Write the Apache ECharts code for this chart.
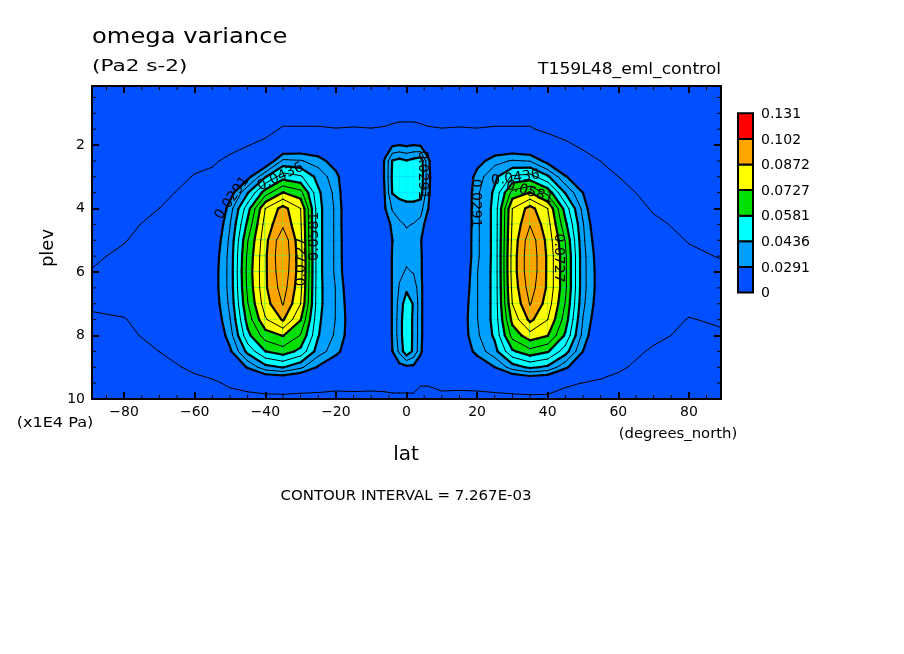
<!DOCTYPE html>
<html><head><meta charset="utf-8">
<script src="https://cdn.jsdelivr.net/npm/echarts@6/dist/echarts.min.js"></script>
<style>html,body{margin:0;padding:0;background:#fff}#c{width:904px;height:654px}</style>
</head><body><div id="c"></div><script>
// ---------- data ----------
const lat = [-89.1,-80,-70,-60,-55,-50,-45,-40,-35,-30,-25,-20,-15,-10,-6,-4,-2,0,2,4,6,10,15,20,25,30,35,40,45,50,55,60,70,80,89.1];
const plev = [0.14,1,1.5,2,2.5,3,3.5,4,4.5,5,5.5,6,6.5,7,7.5,8,8.5,9,9.5,10];
// omega variance profiles, one array per latitude (values at the plev levels above)
const varianceByLat = [
 [0.001,0.0015,0.002,0.0025,0.003,0.0035,0.004,0.0045,0.005,0.0055,0.0065,0.0075,0.0085,0.008,0.0065,0.006,0.0055,0.005,0.0045,0.004],
 [0.001,0.0015,0.002,0.0025,0.003,0.0035,0.004,0.005,0.006,0.007,0.0082,0.009,0.0095,0.0088,0.007,0.006,0.0055,0.005,0.0045,0.004],
 [0.001,0.002,0.0025,0.003,0.0035,0.0045,0.0058,0.0073,0.0088,0.0098,0.0105,0.011,0.0112,0.011,0.0102,0.009,0.0073,0.006,0.005,0.0045],
 [0.001,0.002,0.003,0.004,0.0058,0.0076,0.0092,0.0105,0.0115,0.012,0.0122,0.0122,0.012,0.0118,0.0115,0.011,0.0095,0.008,0.0062,0.005],
 [0.001,0.002,0.003,0.0045,0.0065,0.0085,0.011,0.014,0.018,0.021,0.023,0.024,0.024,0.023,0.021,0.018,0.014,0.0095,0.0065,0.005],
 [0.001,0.002,0.0035,0.0055,0.0085,0.014,0.025,0.033,0.036,0.038,0.039,0.039,0.039,0.038,0.036,0.033,0.0275,0.018,0.008,0.0055],
 [0.001,0.0025,0.004,0.007,0.012,0.026,0.043,0.055,0.060,0.065,0.067,0.068,0.067,0.065,0.061,0.056,0.046,0.030,0.010,0.005],
 [0.001,0.003,0.005,0.009,0.020,0.043,0.062,0.080,0.083,0.085,0.086,0.086,0.086,0.084,0.079,0.069,0.058,0.041,0.014,0.004],
 [0.001,0.004,0.008,0.018,0.038,0.055,0.073,0.090,0.093,0.100,0.101,0.100,0.098,0.095,0.088,0.073,0.062,0.044,0.015,0.004],
 [0.001,0.004,0.008,0.020,0.037,0.052,0.068,0.080,0.081,0.082,0.083,0.083,0.082,0.080,0.073,0.065,0.056,0.038,0.013,0.004],
 [0.001,0.004,0.008,0.019,0.033,0.041,0.045,0.046,0.046,0.046,0.046,0.046,0.046,0.046,0.045,0.044,0.040,0.028,0.012,0.004],
 [0.001,0.004,0.0075,0.014,0.024,0.032,0.034,0.035,0.035,0.035,0.035,0.035,0.036,0.036,0.036,0.035,0.032,0.020,0.010,0.0045],
 [0.001,0.004,0.0078,0.010,0.012,0.014,0.015,0.016,0.016,0.017,0.017,0.018,0.020,0.022,0.023,0.023,0.020,0.014,0.011,0.004],
 [0.001,0.004,0.0075,0.009,0.010,0.011,0.011,0.011,0.011,0.011,0.011,0.012,0.012,0.012,0.012,0.012,0.012,0.011,0.0095,0.005],
 [0.001,0.004,0.008,0.022,0.031,0.031,0.030,0.029,0.022,0.018,0.018,0.018,0.018,0.018,0.018,0.018,0.017,0.012,0.010,0.005],
 [0.001,0.004,0.009,0.028,0.044,0.045,0.044,0.037,0.032,0.029,0.030,0.030,0.030,0.030,0.030,0.030,0.029,0.020,0.011,0.005],
 [0.001,0.004,0.010,0.029,0.046,0.048,0.046,0.040,0.035,0.033,0.034,0.035,0.037,0.039,0.040,0.040,0.038,0.026,0.011,0.005],
 [0.001,0.004,0.010,0.028,0.044,0.048,0.047,0.041,0.037,0.034,0.035,0.037,0.042,0.048,0.050,0.050,0.049,0.027,0.011,0.005],
 [0.001,0.004,0.010,0.029,0.046,0.048,0.047,0.041,0.036,0.034,0.035,0.036,0.040,0.043,0.042,0.042,0.042,0.027,0.011,0.005],
 [0.001,0.004,0.009,0.028,0.048,0.049,0.047,0.039,0.034,0.030,0.031,0.031,0.032,0.032,0.032,0.032,0.031,0.022,0.008,0.004],
 [0.001,0.004,0.008,0.022,0.032,0.033,0.032,0.030,0.024,0.019,0.019,0.019,0.019,0.019,0.019,0.019,0.018,0.013,0.008,0.004],
 [0.001,0.004,0.0075,0.009,0.010,0.011,0.011,0.011,0.011,0.011,0.011,0.012,0.012,0.012,0.012,0.012,0.012,0.011,0.0095,0.005],
 [0.001,0.004,0.0078,0.010,0.012,0.014,0.015,0.016,0.016,0.017,0.017,0.018,0.020,0.022,0.023,0.023,0.020,0.014,0.010,0.004],
 [0.001,0.004,0.0075,0.014,0.025,0.033,0.035,0.035,0.035,0.035,0.035,0.036,0.036,0.036,0.036,0.035,0.032,0.021,0.010,0.0045],
 [0.001,0.004,0.008,0.019,0.034,0.042,0.045,0.046,0.046,0.046,0.046,0.046,0.046,0.046,0.046,0.045,0.041,0.029,0.012,0.004],
 [0.001,0.004,0.008,0.020,0.037,0.052,0.068,0.080,0.081,0.082,0.083,0.083,0.082,0.080,0.075,0.068,0.057,0.040,0.014,0.004],
 [0.001,0.004,0.008,0.018,0.036,0.054,0.073,0.090,0.094,0.099,0.100,0.100,0.098,0.095,0.089,0.077,0.063,0.045,0.016,0.004],
 [0.001,0.003,0.0055,0.012,0.026,0.045,0.063,0.080,0.083,0.085,0.086,0.086,0.086,0.084,0.080,0.073,0.059,0.042,0.015,0.004],
 [0.001,0.0025,0.0045,0.0085,0.016,0.030,0.043,0.055,0.060,0.065,0.067,0.067,0.067,0.065,0.062,0.057,0.047,0.031,0.009,0.003],
 [0.001,0.002,0.0035,0.006,0.010,0.020,0.029,0.034,0.037,0.038,0.039,0.039,0.039,0.038,0.036,0.034,0.029,0.019,0.007,0.005],
 [0.001,0.002,0.003,0.005,0.0072,0.009,0.012,0.015,0.018,0.021,0.023,0.024,0.024,0.023,0.021,0.018,0.014,0.011,0.006,0.005],
 [0.001,0.002,0.003,0.0042,0.0056,0.0073,0.009,0.0105,0.0115,0.012,0.0122,0.0122,0.012,0.0118,0.0115,0.011,0.0098,0.0078,0.0062,0.005],
 [0.001,0.002,0.0025,0.003,0.0035,0.0045,0.0055,0.0068,0.0082,0.0095,0.0103,0.0108,0.011,0.0108,0.0098,0.0085,0.0065,0.0058,0.005,0.0045],
 [0.001,0.0015,0.002,0.0025,0.003,0.0035,0.004,0.005,0.006,0.007,0.0082,0.009,0.0095,0.0088,0.007,0.006,0.0055,0.005,0.0045,0.004],
 [0.001,0.0015,0.002,0.0025,0.003,0.0035,0.004,0.0045,0.005,0.006,0.007,0.0085,0.009,0.009,0.008,0.0065,0.006,0.0055,0.005,0.0045]
];
const fillLevels = [0, 0.0291, 0.0436, 0.0581, 0.0727, 0.0872, 0.102, 0.131];
const fillColors = ['#0050ff','#00a0ff','#00ffff','#00e000','#ffff00','#ffa500','#ff0000'];
const contourInterval = 7.267e-3;
const contourSteps = [1,4,5,6,7,8,9,10,11,12,13,14];
const xMajor = [-80,-60,-40,-20,0,20,40,60,80];
const xMinor = [-85,-75,-70,-65,-55,-50,-45,-35,-30,-25,-15,-10,-5,5,10,15,25,30,35,45,50,55,65,70,75,85];
const yMajor = [2,4,6,8,10];
const yMinor = [0.5,1,1.5,2.5,3,3.5,4.5,5,5.5,6.5,7,7.5,8.5,9,9.5];
const contourLabels = [
 {lat:-49.4, plev:3.67, text:'0.0291', angle:55},
 {lat:-35.7, plev:3.0,  text:'0.0436', angle:25},
 {lat:-26.1, plev:4.87, text:'0.0581', angle:90},
 {lat:-29.8, plev:5.68, text:'0.0727', angle:90},
 {lat:4.5,   plev:2.94, text:'0.0291', angle:-90},
 {lat:19.6,  plev:3.83, text:'0.0291', angle:-90},
 {lat:30.9,  plev:3.04, text:'0.0436', angle:8},
 {lat:34.9,  plev:3.48, text:'0.0581', angle:-17},
 {lat:43.1,  plev:5.56, text:'0.0727', angle:-90}
];

// ---------- helpers ----------
const FONT = 'DejaVu Sans';
function corners(i, j, api) {
  const P = [[lat[i],plev[j]],[lat[i+1],plev[j]],[lat[i+1],plev[j+1]],[lat[i],plev[j+1]]];
  const V = [varianceByLat[i][j],varianceByLat[i+1][j],varianceByLat[i+1][j+1],varianceByLat[i][j+1]];
  return {pts: P.map(p => api.coord(p)), vals: V};
}
function lerp(a, b, va, vb, t) {
  const f = (t - va) / (vb - va);
  return [a[0] + f*(b[0]-a[0]), a[1] + f*(b[1]-a[1])];
}
function clipAbove(c, t) {
  const out = [];
  for (let k = 0; k < 4; k++) {
    const a = c.pts[k], b = c.pts[(k+1)%4], va = c.vals[k], vb = c.vals[(k+1)%4];
    if (va >= t) out.push(a);
    if ((va >= t) !== (vb >= t)) out.push(lerp(a,b,va,vb,t));
  }
  return out.length >= 3 ? out : null;
}
function segments(c, t) {
  const e = [];
  for (let k = 0; k < 4; k++) {
    const a = c.pts[k], b = c.pts[(k+1)%4], va = c.vals[k], vb = c.vals[(k+1)%4];
    e.push(((va >= t) !== (vb >= t)) ? lerp(a,b,va,vb,t) : null);
  }
  const hit = e.filter(p => p);
  if (hit.length === 2) return [hit];
  if (hit.length === 4) {
    const center = (c.vals[0]+c.vals[1]+c.vals[2]+c.vals[3])/4;
    if ((center >= t) === (c.vals[0] >= t)) return [[e[0],e[1]],[e[2],e[3]]];
    return [[e[3],e[0]],[e[1],e[2]]];
  }
  return [];
}
const cells = [];
for (let i = 0; i < lat.length-1; i++) for (let j = 0; j < plev.length-1; j++) cells.push([i, j]);

const chart = echarts.init(document.getElementById('c'));
const xMin = lat[0], xMax = lat[lat.length-1], yMin = plev[0], yMax = plev[plev.length-1];
const minus = v => (v < 0 ? '\u2212' + Math.abs(v) : String(v));
const lineBlack = {color:'#000', width:2};

// colorbar graphics
const graphics = [];
const cbX = 738, cbW = 15, cbBottom = 292.5, cbH = 25.6;
for (let k = 0; k < fillColors.length; k++) {
  graphics.push({type:'rect', shape:{x:cbX, y:cbBottom-(k+1)*cbH, width:cbW, height:cbH},
    style:{fill:fillColors[k], stroke:'#000', lineWidth:2}, z:10});
}
for (let k = 0; k < fillLevels.length; k++) {
  graphics.push({type:'text', x:761, y:cbBottom-k*cbH+1,
    style:{text:String(fillLevels[k]), font:'14px "'+FONT+'"', fill:'#000', textAlign:'left', textVerticalAlign:'middle'}});
}
function txt(text, x, y, size, align, rot, sx) {
  return {type:'text', x:x, y:y, rotation: rot || 0, scaleX: sx || 1,
    style:{text:text, font:size+'px "'+FONT+'"', fill:'#000', textAlign:align||'left', textVerticalAlign:'middle'}};
}
graphics.push(txt('omega variance', 92, 37, 22, 'left', 0, 1.1));
graphics.push(txt('(Pa2 s-2)', 92, 67, 16, 'left', 0, 1.35));
graphics.push(txt('T159L48_eml_control', 721, 70, 16, 'right', 0, 1.07));
graphics.push(txt('plev', 48, 248, 18, 'center', Math.PI/2));
graphics.push(txt('lat', 406, 455, 20, 'center'));
graphics.push(txt('(x1E4 Pa)', 55, 423, 14, 'center', 0, 1.15));
graphics.push(txt('(degrees_north)', 678, 434, 14, 'center', 0, 1.06));
graphics.push(txt('CONTOUR INTERVAL = ' + contourInterval.toExponential(3).replace('e-', 'E-0'), 406, 496, 14, 'center', 0, 1.07));

const valAxisX = (pos, labels) => ({
  type:'value', position:pos, min:xMin, max:xMax, z:10,
  splitLine:{show:false},
  axisLine:{show:true, onZero:false, lineStyle:lineBlack},
  axisTick:{show:true, inside:true, length:7, lineStyle:lineBlack, customValues:xMajor},
  axisLabel:{show:labels, customValues:xMajor, formatter:minus, color:'#000', fontSize:14, fontFamily:FONT, margin:6}
});
const valAxisY = (pos, labels) => ({
  type:'value', position:pos, min:yMin, max:yMax, inverse:true, z:10,
  splitLine:{show:false},
  axisLine:{show:true, onZero:false, lineStyle:lineBlack},
  axisTick:{show:true, inside:true, length:7, lineStyle:lineBlack, customValues:yMajor},
  axisLabel:{show:labels, customValues:yMajor, color:'#000', fontSize:14, fontFamily:FONT, margin:7}
});

const tickData = xMinor.map(v => [v, 0]).concat(yMinor.map(v => [v, 1]));

chart.setOption({
  animation:false,
  backgroundColor:'#fff',
  grid:{left:92, top:86, width:629, height:313, show:true, backgroundColor:fillColors[0], borderWidth:0, containLabel:false, outerBoundsMode:'none'},
  xAxis:[valAxisX('bottom', true), valAxisX('top', false)],
  yAxis:[valAxisY('left', true), valAxisY('right', false)],
  graphic: graphics,
  series:[
    {type:'custom', name:'fill', coordinateSystem:'cartesian2d', data:cells, clip:true, silent:true, z:2,
     renderItem:function(params, api){
       const c = corners(api.value(0), api.value(1), api);
       const ch = [];
       for (let k = 1; k < fillColors.length; k++) {
         const poly = clipAbove(c, fillLevels[k]);
         if (poly) ch.push({type:'polygon', shape:{points:poly}, style:{fill:fillColors[k], stroke:fillColors[k], lineWidth:0.8}});
       }
       return {type:'group', children:ch};
     }},
    {type:'custom', name:'lines', coordinateSystem:'cartesian2d', data:cells, clip:true, silent:true, z:3,
     renderItem:function(params, api){
       const c = corners(api.value(0), api.value(1), api);
       const ch = [];
       contourSteps.forEach(function(s){
         const t = s * contourInterval;
         const thick = (s % 2 === 0);
         segments(c, t).forEach(function(sg){
           ch.push({type:'line', shape:{x1:sg[0][0], y1:sg[0][1], x2:sg[1][0], y2:sg[1][1]},
             style:{stroke:'#000', lineWidth: thick ? 2.2 : 1, lineCap:'round'}});
         });
       });
       return {type:'group', children:ch};
     }},
    {type:'custom', name:'labels', coordinateSystem:'cartesian2d', clip:false, silent:true, z:4,
     data: contourLabels.map(d => [d.lat, d.plev]),
     renderItem:function(params, api){
       const d = contourLabels[params.dataIndex];
       const p = api.coord([d.lat, d.plev]);
       return {type:'text', x:p[0], y:p[1], rotation:d.angle*Math.PI/180,
         style:{text:d.text, font:'14px "'+FONT+'"', fill:'#000', textAlign:'center', textVerticalAlign:'middle'}};
     }},
    {type:'custom', name:'minorTicks', coordinateSystem:'cartesian2d', clip:false, silent:true, z:11,
     data: tickData,
     renderItem:function(params, api){
       const v = api.value(0), kind = api.value(1);
       const st = {stroke:'#000', lineWidth:1};
       if (kind === 0) {
         const b = api.coord([v, yMax]), t = api.coord([v, yMin]);
         return {type:'group', children:[
           {type:'line', shape:{x1:b[0], y1:b[1], x2:b[0], y2:b[1]-4}, style:st},
           {type:'line', shape:{x1:t[0], y1:t[1], x2:t[0], y2:t[1]+4}, style:st}]};
       }
       const l = api.coord([xMin, v]), r = api.coord([xMax, v]);
       return {type:'group', children:[
         {type:'line', shape:{x1:l[0], y1:l[1], x2:l[0]+4, y2:l[1]}, style:st},
         {type:'line', shape:{x1:r[0], y1:r[1], x2:r[0]-4, y2:r[1]}, style:st}]};
     }}
  ]
});
</script></body></html>
